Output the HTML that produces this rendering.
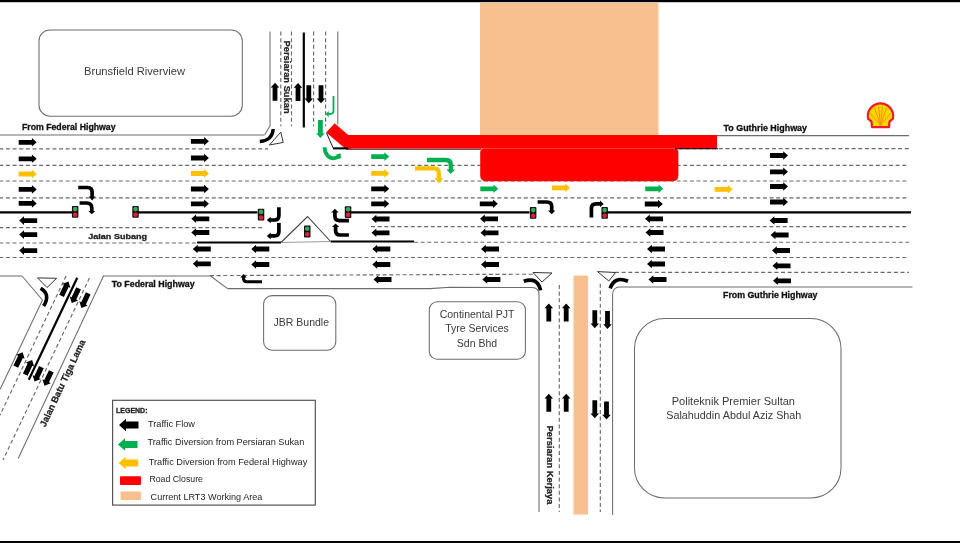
<!DOCTYPE html>
<html><head><meta charset="utf-8"><style>
html,body{margin:0;padding:0;background:#fff;}
svg{display:block;will-change:transform;font-family:"Liberation Sans",sans-serif;}
</style></head><body>
<svg width="960" height="543" viewBox="0 0 960 543">
<rect width="960" height="543" fill="#fff"/>
<defs>
<path id="ar" d="M-9,-2.4H4.2V-4.3L9,0L4.2,4.3V2.4H-9Z"/>
<path id="ar2" d="M-8,-2.6H3V-4.6L8,0L3,4.6V2.6H-8Z"/>
<path id="arL" d="M0,0L7,-6.3V-3.5H19.5V3.5H7V6.3Z"/>
<g id="tl"><rect x="0" y="0" width="6.5" height="11.8" rx="1" fill="#111"/><circle cx="3.25" cy="3.1" r="2.3" fill="#3aa858"/><circle cx="3.25" cy="8.7" r="2.3" fill="#dc2236"/></g>
</defs>
<rect x="0" y="0" width="960" height="2.2" fill="#000"/>
<rect x="0" y="541" width="960" height="2" fill="#000"/>
<rect x="480" y="3" width="178.5" height="133" fill="#f8c08e"/>
<rect x="573.5" y="275.6" width="14.5" height="239" fill="#f8c08e"/>
<rect x="39" y="30" width="203.3" height="86.2" rx="11" fill="none" stroke="#6c6c6c" stroke-width="1.05"/>
<rect x="263.6" y="295.6" width="72.2" height="54.6" rx="8.5" fill="none" stroke="#6c6c6c" stroke-width="1.05"/>
<rect x="429.3" y="301.7" width="96.1" height="57.5" rx="8" fill="none" stroke="#6c6c6c" stroke-width="1.05"/>
<rect x="634.5" y="318.5" width="206.5" height="179.5" rx="30" fill="none" stroke="#6c6c6c" stroke-width="1.05"/>
<rect x="112.6" y="400.3" width="202.7" height="104.8" fill="none" stroke="#555" stroke-width="1.2"/>
<line x1="0" y1="135" x2="264.8" y2="135" stroke="#6c6c6c" stroke-width="1.05" />
<line x1="717" y1="135.6" x2="909" y2="135.6" stroke="#6c6c6c" stroke-width="1.05" />
<line x1="270" y1="31.5" x2="270" y2="126" stroke="#6c6c6c" stroke-width="1.05" />
<line x1="270" y1="126" x2="264.8" y2="134.6" stroke="#6c6c6c" stroke-width="1.05" />
<line x1="337.8" y1="31.5" x2="337.8" y2="124.6" stroke="#6c6c6c" stroke-width="1.05" />
<line x1="280.8" y1="31.5" x2="280.8" y2="126.3" stroke="#6a6a6a" stroke-width="1.15" stroke-dasharray="4 2.64" stroke-dashoffset="0"/>
<line x1="291.5" y1="31.5" x2="291.5" y2="126.3" stroke="#6a6a6a" stroke-width="1.15" stroke-dasharray="4 2.64" stroke-dashoffset="0"/>
<line x1="313.6" y1="31.5" x2="313.6" y2="126.3" stroke="#6a6a6a" stroke-width="1.15" stroke-dasharray="4 2.64" stroke-dashoffset="0"/>
<line x1="325.6" y1="31.5" x2="325.6" y2="126.3" stroke="#6a6a6a" stroke-width="1.15" stroke-dasharray="4 2.64" stroke-dashoffset="0"/>
<line x1="303.8" y1="32.5" x2="303.8" y2="127.5" stroke="#000" stroke-width="2.2" />
<line x1="0" y1="148.9" x2="268" y2="148.9" stroke="#6a6a6a" stroke-width="1.15" stroke-dasharray="4 2.64" stroke-dashoffset="0.7"/>
<line x1="679" y1="148.6" x2="909" y2="148.6" stroke="#6a6a6a" stroke-width="1.15" stroke-dasharray="4 2.64" stroke-dashoffset="0"/>
<line x1="0" y1="165.3" x2="909" y2="165.3" stroke="#6a6a6a" stroke-width="1.15" stroke-dasharray="4 2.64" stroke-dashoffset="0.7"/>
<line x1="0" y1="181" x2="909" y2="181" stroke="#6a6a6a" stroke-width="1.15" stroke-dasharray="4 2.64" stroke-dashoffset="0.7"/>
<line x1="0" y1="197.8" x2="909" y2="197.8" stroke="#6a6a6a" stroke-width="1.15" stroke-dasharray="4 2.64" stroke-dashoffset="0.7"/>
<line x1="0" y1="212.4" x2="72" y2="212.4" stroke="#000" stroke-width="2.2" />
<line x1="138" y1="212.4" x2="257.5" y2="212.4" stroke="#000" stroke-width="2.2" />
<line x1="351" y1="212.4" x2="529.5" y2="212.4" stroke="#000" stroke-width="2.2" />
<line x1="607" y1="212.4" x2="911" y2="212.4" stroke="#000" stroke-width="2.2" />
<line x1="0" y1="227.6" x2="264" y2="227.6" stroke="#6a6a6a" stroke-width="1.15" stroke-dasharray="4 2.64" stroke-dashoffset="0.7"/>
<line x1="371" y1="226.6" x2="909" y2="226.6" stroke="#6a6a6a" stroke-width="1.15" stroke-dasharray="4 2.64" stroke-dashoffset="0"/>
<line x1="0" y1="243" x2="197" y2="243" stroke="#6a6a6a" stroke-width="1.15" stroke-dasharray="4 2.64" stroke-dashoffset="0.7"/>
<line x1="197" y1="242.5" x2="281" y2="242.5" stroke="#000" stroke-width="2.2" />
<line x1="330.6" y1="241.5" x2="414" y2="241.5" stroke="#000" stroke-width="2.2" />
<line x1="414" y1="242.2" x2="909" y2="242.2" stroke="#6a6a6a" stroke-width="1.15" stroke-dasharray="4 2.64" stroke-dashoffset="0"/>
<polyline points="281,242.5 307.5,216.5 330.6,241.5" fill="none" stroke="#404040" stroke-width="1.1"/>
<line x1="281" y1="242.5" x2="330.6" y2="241.5" stroke="#999" stroke-width="1.1" />
<line x1="0" y1="257.5" x2="909" y2="257.5" stroke="#6a6a6a" stroke-width="1.15" stroke-dasharray="4 2.64" stroke-dashoffset="0.7"/>
<line x1="210" y1="275.6" x2="533" y2="274.2" stroke="#6a6a6a" stroke-width="1.15" stroke-dasharray="4 2.64" stroke-dashoffset="0"/>
<line x1="615" y1="272.3" x2="909" y2="272.3" stroke="#6a6a6a" stroke-width="1.15" stroke-dasharray="4 2.64" stroke-dashoffset="0"/>
<line x1="0" y1="276" x2="22" y2="276" stroke="#6c6c6c" stroke-width="1.05" />
<line x1="22" y1="276" x2="42.5" y2="300" stroke="#6c6c6c" stroke-width="1.05" />
<line x1="102.5" y1="276" x2="210.6" y2="276" stroke="#6c6c6c" stroke-width="1.05" />
<line x1="210.6" y1="276" x2="227.5" y2="288.6" stroke="#6c6c6c" stroke-width="1.05" />
<path d="M227.5,288.6 L430,288.6 L450,287.3 L532,287.5 Q539,287.5 539,295 L539,512" fill="none" stroke="#6c6c6c" stroke-width="1.05"/>
<path d="M612.6,515 L612.6,295 Q612.6,287 620,287 L912.5,287" fill="none" stroke="#6c6c6c" stroke-width="1.05"/>
<line x1="559.3" y1="285" x2="559.3" y2="512" stroke="#6a6a6a" stroke-width="1.15" stroke-dasharray="4 2.64" stroke-dashoffset="0"/>
<line x1="600.3" y1="283.8" x2="600.3" y2="512" stroke="#6a6a6a" stroke-width="1.15" stroke-dasharray="4 2.64" stroke-dashoffset="0"/>
<line x1="42.5" y1="300" x2="0" y2="389.4736842105263" stroke="#6c6c6c" stroke-width="1.05" />
<line x1="66.1" y1="276" x2="0" y2="415.1578947368421" stroke="#6a6a6a" stroke-width="1.15" stroke-dasharray="4 2.64" stroke-dashoffset="0"/>
<line x1="77.245" y1="277.8" x2="28.794999999999998" y2="379.8" stroke="#000" stroke-width="2.2" />
<line x1="89.45" y1="278" x2="3.0" y2="460" stroke="#6a6a6a" stroke-width="1.15" stroke-dasharray="4 2.64" stroke-dashoffset="0"/>
<line x1="103.5" y1="276" x2="18.212500000000006" y2="458.5" stroke="#6c6c6c" stroke-width="1.05" />
<path d="M326.2,132.6 L334.6,123.2 L348.3,135 L717,135 L717,148.6 L352,148.6 L346.3,149.6 Z" fill="#ff0000"/>
<path d="M484.2,148.4 H674.4 Q678.4,148.4 678.4,152.4 V175.3 Q678.4,181.3 672.4,181.3 H486.2 Q480.2,181.3 480.2,175.3 V152.4 Q480.2,148.4 484.2,148.4 Z" fill="#ff0000"/>
<polyline points="326.5,133 333.3,148.3 346,148.3" fill="none" stroke="#000" stroke-width="0.9"/>
<line x1="675" y1="148.8" x2="718" y2="148.8" stroke="#000" stroke-width="1.1" />
<line x1="333" y1="148.4" x2="348" y2="148.4" stroke="#000" stroke-width="2" />
<line x1="346" y1="149.2" x2="481" y2="149.2" stroke="#3a0000" stroke-width="1" />
<use href="#ar" fill="#000" transform="translate(27.7,142.3) rotate(0) scale(1.0)"/>
<use href="#ar" fill="#000" transform="translate(27.7,158.8) rotate(0) scale(1.0)"/>
<use href="#ar" fill="#000" transform="translate(27.7,189.4) rotate(0) scale(1.0)"/>
<use href="#ar" fill="#000" transform="translate(27.7,203.4) rotate(0) scale(1.0)"/>
<use href="#ar" fill="#ffc000" transform="translate(27.7,174) rotate(0) scale(1.0)"/>
<use href="#ar" fill="#000" transform="translate(28.2,220.6) rotate(180) scale(1.0)"/>
<use href="#ar" fill="#000" transform="translate(28.2,234.6) rotate(180) scale(1.0)"/>
<use href="#ar" fill="#000" transform="translate(28.2,250.6) rotate(180) scale(1.0)"/>
<use href="#ar" fill="#000" transform="translate(199.9,141.3) rotate(0) scale(1.0)"/>
<use href="#ar" fill="#000" transform="translate(199.9,158) rotate(0) scale(1.0)"/>
<use href="#ar" fill="#000" transform="translate(199.9,189) rotate(0) scale(1.0)"/>
<use href="#ar" fill="#000" transform="translate(199.9,203.8) rotate(0) scale(1.0)"/>
<use href="#ar" fill="#ffc000" transform="translate(199.9,173.5) rotate(0) scale(1.0)"/>
<use href="#ar" fill="#000" transform="translate(200.3,218.8) rotate(180) scale(1.0)"/>
<use href="#ar" fill="#000" transform="translate(200.3,232.5) rotate(180) scale(1.0)"/>
<use href="#ar" fill="#000" transform="translate(201.8,249) rotate(180) scale(1.0)"/>
<use href="#ar" fill="#000" transform="translate(201.8,263.8) rotate(180) scale(1.0)"/>
<use href="#ar" fill="#00b050" transform="translate(380.2,156.6) rotate(0) scale(1.0)"/>
<use href="#ar" fill="#ffc000" transform="translate(380.2,173.4) rotate(0) scale(1.0)"/>
<use href="#ar" fill="#000" transform="translate(380.2,188.8) rotate(0) scale(1.0)"/>
<use href="#ar" fill="#000" transform="translate(380.2,203.8) rotate(0) scale(1.0)"/>
<use href="#ar" fill="#000" transform="translate(380.5,219) rotate(180) scale(1.0)"/>
<use href="#ar" fill="#000" transform="translate(380.5,232.8) rotate(180) scale(1.0)"/>
<use href="#ar" fill="#000" transform="translate(381.3,249) rotate(180) scale(1.0)"/>
<use href="#ar" fill="#000" transform="translate(381.3,264.5) rotate(180) scale(1.0)"/>
<use href="#ar" fill="#000" transform="translate(382.5,279.5) rotate(180) scale(1.0)"/>
<use href="#ar" fill="#000" transform="translate(260.3,249) rotate(180) scale(1.0)"/>
<use href="#ar" fill="#000" transform="translate(260.3,264.5) rotate(180) scale(1.0)"/>
<use href="#ar" fill="#00b050" transform="translate(489.3,188.8) rotate(0) scale(1.0)"/>
<use href="#ar" fill="#000" transform="translate(488.8,203.8) rotate(0) scale(1.0)"/>
<use href="#ar" fill="#000" transform="translate(489,218.8) rotate(180) scale(1.0)"/>
<use href="#ar" fill="#000" transform="translate(489.5,232.8) rotate(180) scale(1.0)"/>
<use href="#ar" fill="#000" transform="translate(490,249) rotate(180) scale(1.0)"/>
<use href="#ar" fill="#000" transform="translate(490,264.5) rotate(180) scale(1.0)"/>
<use href="#ar" fill="#000" transform="translate(491.4,279.5) rotate(180) scale(1.0)"/>
<use href="#ar" fill="#ffc000" transform="translate(561,187.8) rotate(0) scale(1.0)"/>
<use href="#ar" fill="#00b050" transform="translate(654.3,188.8) rotate(0) scale(1.0)"/>
<use href="#ar" fill="#000" transform="translate(653.8,204) rotate(0) scale(1.0)"/>
<use href="#ar" fill="#000" transform="translate(654,218.8) rotate(180) scale(1.0)"/>
<use href="#ar" fill="#000" transform="translate(654.5,232.5) rotate(180) scale(1.0)"/>
<use href="#ar" fill="#000" transform="translate(656,249) rotate(180) scale(1.0)"/>
<use href="#ar" fill="#000" transform="translate(656,264) rotate(180) scale(1.0)"/>
<use href="#ar" fill="#000" transform="translate(657.5,279.5) rotate(180) scale(1.0)"/>
<use href="#ar" fill="#ffc000" transform="translate(723.6,189.3) rotate(0) scale(1.0)"/>
<use href="#ar" fill="#000" transform="translate(779,155.5) rotate(0) scale(1.0)"/>
<use href="#ar" fill="#000" transform="translate(779,171.8) rotate(0) scale(1.0)"/>
<use href="#ar" fill="#000" transform="translate(779,186.5) rotate(0) scale(1.0)"/>
<use href="#ar" fill="#000" transform="translate(779,202) rotate(0) scale(1.0)"/>
<use href="#ar" fill="#000" transform="translate(778.6,220.5) rotate(180) scale(1.0)"/>
<use href="#ar" fill="#000" transform="translate(779.6,235) rotate(180) scale(1.0)"/>
<use href="#ar" fill="#000" transform="translate(781,250.5) rotate(180) scale(1.0)"/>
<use href="#ar" fill="#000" transform="translate(781.5,265.8) rotate(180) scale(1.0)"/>
<use href="#ar" fill="#000" transform="translate(782,280.8) rotate(180) scale(1.0)"/>
<use href="#ar" fill="#000" transform="translate(275,91.8) rotate(-90) scale(1.0)"/>
<use href="#ar" fill="#000" transform="translate(298,92) rotate(-90) scale(1.0)"/>
<use href="#ar" fill="#000" transform="translate(308.8,94.3) rotate(90) scale(1.0)"/>
<use href="#ar" fill="#000" transform="translate(321,94.3) rotate(90) scale(1.0)"/>
<use href="#ar" fill="#00b050" transform="translate(320.4,129.1) rotate(90) scale(1.0)"/>
<use href="#ar" fill="#000" transform="translate(548.8,312.4) rotate(-90) scale(1.0)"/>
<use href="#ar" fill="#000" transform="translate(566.2,312.4) rotate(-90) scale(1.0)"/>
<use href="#ar" fill="#000" transform="translate(594.8,319.2) rotate(90) scale(1.0)"/>
<use href="#ar" fill="#000" transform="translate(607.5,320) rotate(90) scale(1.0)"/>
<use href="#ar" fill="#000" transform="translate(548.8,402.7) rotate(-90) scale(1.0)"/>
<use href="#ar" fill="#000" transform="translate(566.2,402.7) rotate(-90) scale(1.0)"/>
<use href="#ar" fill="#000" transform="translate(594.8,409.3) rotate(90) scale(1.0)"/>
<use href="#ar" fill="#000" transform="translate(606.5,410.5) rotate(90) scale(1.0)"/>
<use href="#ar2" fill="#000" transform="translate(65,288.7) rotate(-64.6) scale(1)"/>
<use href="#ar2" fill="#000" transform="translate(75.2,295.7) rotate(115.4) scale(1)"/>
<use href="#ar2" fill="#000" transform="translate(84.8,300.7) rotate(115.4) scale(1)"/>
<use href="#ar2" fill="#000" transform="translate(19.2,359.5) rotate(-64.6) scale(1)"/>
<use href="#ar2" fill="#000" transform="translate(28.7,367.3) rotate(-64.6) scale(1)"/>
<use href="#ar2" fill="#000" transform="translate(38,374.3) rotate(115.4) scale(1)"/>
<use href="#ar2" fill="#000" transform="translate(47.9,378.5) rotate(115.4) scale(1)"/>
<use href="#tl" transform="translate(71.9,206)"/>
<use href="#tl" transform="translate(132.3,206)"/>
<use href="#tl" transform="translate(257.8,208.8)"/>
<use href="#tl" transform="translate(304,225.6)"/>
<use href="#tl" transform="translate(344.8,206.2)"/>
<use href="#tl" transform="translate(529.9,207)"/>
<use href="#tl" transform="translate(601.4,207)"/>
<path d="M78.2,187.5 H87.5 Q92.1,187.5 92.1,192 V197" fill="none" stroke="#000" stroke-width="3.7"/>
<polygon points="88.7,196.4 95.5,196.4 92.1,200.4" fill="#000"/>
<path d="M79.6,203 H86.5 Q91.8,203 91.8,208 V211.5" fill="none" stroke="#000" stroke-width="3.7"/>
<polygon points="88.4,211 95.2,211 91.8,214.2" fill="#000"/>
<path d="M278.9,207.2 V215.5 Q278.9,220 274.5,220 H270.5" fill="none" stroke="#000" stroke-width="3.7"/>
<polygon points="270.8,216.7 270.8,223.3 266.8,220" fill="#000"/>
<path d="M278.9,223 V231.5 Q278.9,235.9 274.5,235.9 H270.5" fill="none" stroke="#000" stroke-width="3.7"/>
<polygon points="270.8,232.6 270.8,239.2 266.8,235.9" fill="#000"/>
<path d="M348.9,220.6 H339.5 Q334.9,220.6 334.9,216 V212" fill="none" stroke="#000" stroke-width="3.7"/>
<polygon points="331.2,212.6 338.6,212.6 334.9,208.8" fill="#000"/>
<path d="M348.9,235 H340 Q335.6,235 335.6,230.5 V226.5" fill="none" stroke="#000" stroke-width="3.7"/>
<polygon points="331.9,227 339.3,227 335.6,223.6" fill="#000"/>
<path d="M537.6,202 H547 Q551.7,202 551.7,206.5 V211" fill="none" stroke="#000" stroke-width="3.7"/>
<polygon points="548,210.5 555.4,210.5 551.7,214.2" fill="#000"/>
<path d="M591.4,217.5 V208.5 Q591.4,203.9 596,203.9 H600.5" fill="none" stroke="#000" stroke-width="3.7"/>
<polygon points="600,200.6 600,207.2 603.7,203.9" fill="#000"/>
<path d="M262,281.8 H247 Q243.5,281.8 243.5,278.3 V277" fill="none" stroke="#000" stroke-width="3.1"/>
<polygon points="240.2,277.5 246.8,277.5 243.5,273.9" fill="#000"/>
<path d="M273.2,129 Q272.5,140.5 259.8,141.5" fill="none" stroke="#000" stroke-width="3.4"/>
<path d="M40.6,288.3 Q51,294.5 43.6,306" fill="none" stroke="#000" stroke-width="3.6"/>
<path d="M523.8,281.3 Q537.5,276.5 540.6,290.4" fill="none" stroke="#000" stroke-width="3.7"/>
<path d="M610.2,288.4 Q614.5,275.5 628,281.3" fill="none" stroke="#000" stroke-width="3.7"/>
<polygon points="269.4,145 280.8,132.1 283.2,142.4" fill="none" stroke="#333" stroke-width="1"/>
<polygon points="37.5,277.9 56.7,278.3 47,287.5" fill="none" stroke="#333" stroke-width="1"/>
<polygon points="533,272.5 552,273 542,282" fill="none" stroke="#333" stroke-width="1"/>
<polygon points="597.5,271.6 615.6,272.5 608.8,281" fill="none" stroke="#333" stroke-width="1"/>
<path d="M324.6,147.2 C324.8,155 329.5,158.3 333.5,158.3 C336.5,158.3 338,157 339.6,155.3" fill="none" stroke="#00b050" stroke-width="3.8"/>
<path d="M336.5,154.2 L340.8,153.6 L340.8,158.6 L338,158.8 Z" fill="#00b050"/>
<path d="M333.5,96 V110.5 Q333.5,114 330,114 H328.5" fill="none" stroke="#00b050" stroke-width="1.8"/>
<polygon points="328.8,111 328.8,117 325.5,114" fill="#00b050"/>
<path d="M427,160 H446 Q450.8,160 450.8,165 V170" fill="none" stroke="#00b050" stroke-width="4.3"/>
<polygon points="446.4,169.6 455.2,169.6 450.8,174" fill="#00b050"/>
<path d="M415,168.3 H434 Q438.8,168.3 438.8,173.3 V178.5" fill="none" stroke="#ffc000" stroke-width="4.3"/>
<polygon points="434.4,178 443.2,178 438.8,183.3" fill="#ffc000"/>
<g transform="translate(880.5,115.6)">
<path d="M-12.5,3 C-14,-6 -7,-12.3 0,-12.3 C7,-12.3 14,-6 12.5,3 L9,6 L8.5,11.5 L-8.5,11.5 L-9,6 Z" fill="#ffd500" stroke="#ee1c25" stroke-width="2.2" stroke-linejoin="round"/>
<g stroke="#f39200" stroke-width="1" fill="none">
<path d="M0,10 L-2,-10"/><path d="M0,10 L2,-10"/><path d="M0,10 L-6,-8"/><path d="M0,10 L6,-8"/><path d="M0,10 L-10,-2"/><path d="M0,10 L10,-2"/>
</g></g>
<text x="84" y="75" font-size="10" font-weight="normal" fill="#3a3a3a" text-anchor="start" textLength="101" lengthAdjust="spacingAndGlyphs" >Brunsfield Riverview</text>
<text x="21.9" y="130" font-size="8.8" font-weight="bold" fill="#111" text-anchor="start" textLength="93.7" lengthAdjust="spacingAndGlyphs" stroke="#111" stroke-width="0.3">From Federal Highway</text>
<text x="723.5" y="131.3" font-size="8.8" font-weight="bold" fill="#111" text-anchor="start" textLength="83.5" lengthAdjust="spacingAndGlyphs" stroke="#111" stroke-width="0.3">To Guthrie Highway</text>
<text x="111.7" y="287.3" font-size="8.8" font-weight="bold" fill="#111" text-anchor="start" textLength="83" lengthAdjust="spacingAndGlyphs" stroke="#111" stroke-width="0.3">To Federal Highway</text>
<text x="723" y="298" font-size="8.8" font-weight="bold" fill="#111" text-anchor="start" textLength="94.5" lengthAdjust="spacingAndGlyphs" stroke="#111" stroke-width="0.3">From Guthrie Highway</text>
<text x="88.3" y="238.8" font-size="8" font-weight="bold" fill="#222" text-anchor="start" textLength="58.7" lengthAdjust="spacingAndGlyphs" stroke="#222" stroke-width="0.3">Jalan Subang</text>
<text x="273.5" y="326.4" font-size="10.5" font-weight="normal" fill="#3a3a3a" text-anchor="start" textLength="55.5" lengthAdjust="spacingAndGlyphs" >JBR Bundle</text>
<text x="477" y="318.1" font-size="10.5" font-weight="normal" fill="#3a3a3a" text-anchor="middle" >Continental PJT</text>
<text x="477" y="332.4" font-size="10.5" font-weight="normal" fill="#3a3a3a" text-anchor="middle" >Tyre Services</text>
<text x="477" y="346.8" font-size="10.5" font-weight="normal" fill="#3a3a3a" text-anchor="middle" >Sdn Bhd</text>
<text x="671.7" y="405.3" font-size="10.5" font-weight="normal" fill="#3a3a3a" text-anchor="start" textLength="123.3" lengthAdjust="spacingAndGlyphs" >Politeknik Premier Sultan</text>
<text x="666.2" y="419.4" font-size="10.5" font-weight="normal" fill="#3a3a3a" text-anchor="start" textLength="135.2" lengthAdjust="spacingAndGlyphs" >Salahuddin Abdul Aziz Shah</text>
<text transform="translate(283.6,40.6) rotate(90)" font-size="8.6" font-weight="bold" fill="#222" stroke="#222" stroke-width="0.25" textLength="73" lengthAdjust="spacingAndGlyphs">Persiaran Sukan</text>
<text transform="translate(546.5,425.6) rotate(90)" font-size="8.6" font-weight="bold" fill="#222" stroke="#222" stroke-width="0.25" textLength="78.8" lengthAdjust="spacingAndGlyphs">Persiaran Kerjaya</text>
<text transform="translate(45.3,427.5) rotate(-64.8)" font-size="9.4" font-weight="bold" fill="#222" stroke="#222" stroke-width="0.25" textLength="95" lengthAdjust="spacingAndGlyphs">Jalan Batu Tiga Lama</text>
<text x="116" y="412.5" font-size="6.8" font-weight="bold" fill="#222" text-anchor="start" textLength="31.5" lengthAdjust="spacingAndGlyphs" stroke="#222" stroke-width="0.3">LEGEND:</text>
<use href="#arL" fill="#000" transform="translate(119,425)"/>
<use href="#arL" fill="#00b050" transform="translate(118,444.5)"/>
<use href="#arL" fill="#ffc000" transform="translate(118.7,463)"/>
<rect x="120" y="476.3" width="21" height="8.7" rx="1" fill="#ff0000"/>
<rect x="120.6" y="491.5" width="20.4" height="8.5" rx="1" fill="#f8c08e"/>
<text x="148" y="427" font-size="9.2" font-weight="normal" fill="#1e1e1e" text-anchor="start" textLength="47" lengthAdjust="spacingAndGlyphs" >Traffic Flow</text>
<text x="147.5" y="445" font-size="9.2" font-weight="normal" fill="#1e1e1e" text-anchor="start" textLength="156.8" lengthAdjust="spacingAndGlyphs" >Traffic Diversion from Persiaran Sukan</text>
<text x="148.7" y="465.2" font-size="9.2" font-weight="normal" fill="#1e1e1e" text-anchor="start" textLength="158.6" lengthAdjust="spacingAndGlyphs" >Traffic Diversion from Federal Highway</text>
<text x="149.4" y="482.3" font-size="9.2" font-weight="normal" fill="#1e1e1e" text-anchor="start" textLength="53.6" lengthAdjust="spacingAndGlyphs" >Road Closure</text>
<text x="150.6" y="500" font-size="9.2" font-weight="normal" fill="#1e1e1e" text-anchor="start" textLength="111.8" lengthAdjust="spacingAndGlyphs" >Current LRT3 Working Area</text>
</svg></body></html>
